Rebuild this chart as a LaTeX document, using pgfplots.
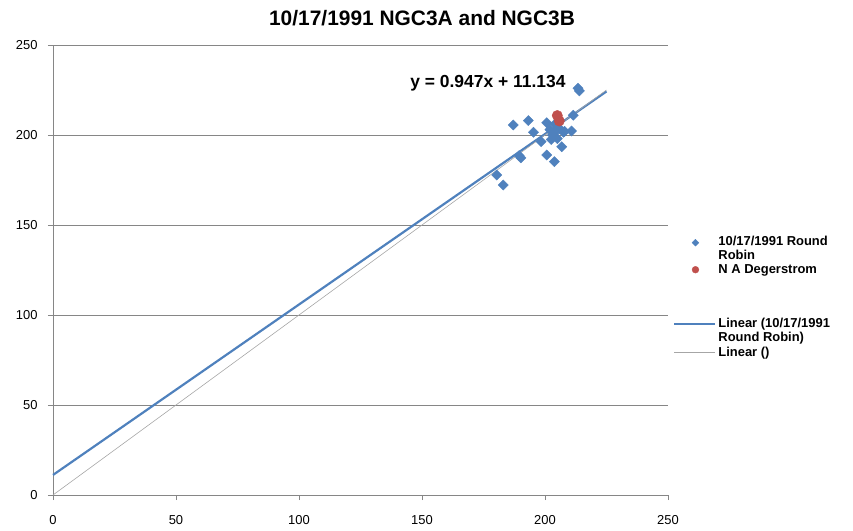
\documentclass[border=0pt]{standalone}
\usepackage{fontspec}
\setmainfont{Liberation Sans}
\usepackage{pgfplots}
\pgfplotsset{compat=1.18}
\definecolor{xlblue}{HTML}{4F81BD}
\definecolor{xlred}{HTML}{C0504D}
\definecolor{gridc}{HTML}{868686}
\begin{document}
\begin{tikzpicture}
\begin{axis}[
  scale only axis,
  width=615bp, height=450bp,
  xmin=0, xmax=250, ymin=0, ymax=250,
  xtick={0,50,...,250}, ytick={0,50,...,250},
  axis x line=bottom, axis y line=left,
  axis line style={-, draw=gridc},
  tick align=outside, major tick length=5bp,
  tick style={draw=gridc},
  ymajorgrids, grid style={draw=gridc, line width=0.8pt},
  xticklabel style={yshift=-12bp},
  yticklabel style={xshift=-7bp},
  /pgf/number format/assume math mode=true,
  ticklabel style={font=\fontsize{13}{13}\selectfont},
  clip=false,
  legend style={at={(rel axis cs:1.008,0.58)}, anchor=north west, draw=none,
    fill=none, inner sep=0pt,
    font=\bfseries\fontsize{13}{13.5}\selectfont, row sep=0pt,
    cells={anchor=west, align=left}},
  legend cell align=left,
]
% round robin results
\addplot[only marks, mark=square*, mark options={rotate=45}, mark size=3.6bp, color=xlblue,
  legend image code/.code={\draw[mark size=2.4bp] plot coordinates {(0.75cm,0.2cm)};}] coordinates {
(180.4,177.8) (183.0,172.2) (187.1,205.6) (193.2,208.0) (195.3,201.5)
(189.5,188.5) (190.2,187.3) (198.4,196.3) (200.7,206.8) (200.7,188.9)
(203.8,185.2) (206.8,193.5) (202.0,203.0) (203.0,200.0) (204.0,201.5)
(205.0,198.0) (206.0,203.5) (207.5,201.5) (202.5,197.5) (210.8,202.2)
(211.5,211.0) (213.4,226.0) (214.0,224.5) (204.0,206.0) (208.0,202.0)
};
\addlegendentry{10/17/1991 Round\\Robin}
\addplot[only marks, mark=*, mark size=5.2bp, color=xlred,
  legend image code/.code={\draw[mark size=3.4bp] plot coordinates {(0.75cm,0cm)};}] coordinates {
(205.0,210.8) (205.8,207.8)
};
\addlegendentry{N A Degerstrom}
\addlegendimage{empty legend}
\addlegendentry{\rule{0pt}{34bp}}
\addplot[xlblue, line width=2.2pt, forget plot] coordinates {(0,11.134) (225,224.2)};
\addlegendimage{xlblue, line width=2.2pt,
  legend image code/.code={\draw (0cm,0.22cm) -- (1.45cm,0.22cm);}}
\addlegendentry{Linear (10/17/1991\\Round Robin)}
\addplot[gray!70, line width=0.6pt, forget plot] coordinates {(0,0) (225,225)};
\addlegendimage{gray!70, line width=0.6pt,
  legend image code/.code={\draw (0cm,0cm) -- (1.45cm,0cm);}}
\addlegendentry{Linear ()}
\node[font=\bfseries\fontsize{17.5}{17.5}\selectfont] at (axis cs:176.8,229) {y = 0.947x + 11.134};
\node[font=\bfseries\fontsize{21}{21}\selectfont] at (rel axis cs:0.6,1.06) {10/17/1991 NGC3A and NGC3B};
\end{axis}
\pgfresetboundingbox
\useasboundingbox (-53bp,-36bp) rectangle (800bp,495bp);
\end{tikzpicture}
\end{document}
